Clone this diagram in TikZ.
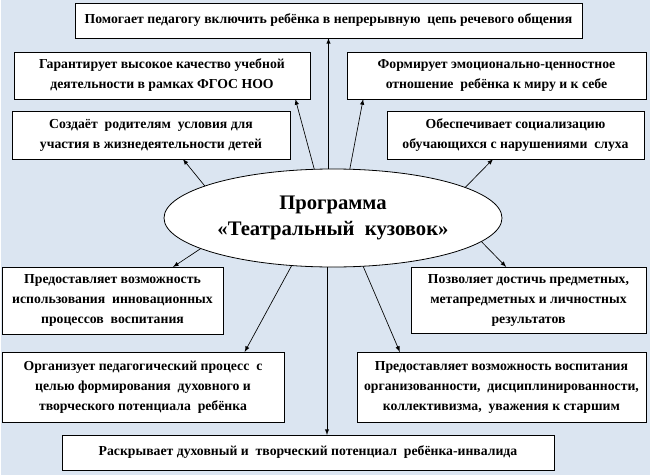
\documentclass[tikz,border=0pt]{standalone}
\usepackage{fontspec}
\setmainfont{Liberation Serif}
\usepackage{tikz}
\usetikzlibrary{shapes.geometric}
\definecolor{bgblue}{RGB}{219,229,241}

\begin{document}
\begin{tikzpicture}[x=0.75pt,y=-0.75pt,
          box/.style={draw, fill=white, line width=0.6pt, align=center,
            inner sep=1pt, outer sep=0pt, font=\fontsize{10.3}{15}\selectfont\bfseries},
          arr/.style={-latex, line width=0.5pt}]
          \useasboundingbox (0,0) rectangle (654,475);
          \fill[bgblue] (1,0) rectangle (650,475);

          \node[draw, ellipse, fill=white, line width=0.6pt, minimum width=253.5pt,
            minimum height=73.5pt, inner sep=0pt, outer sep=0pt, align=center,
            font=\fontsize{15.5}{20}\selectfont\bfseries] (prog) at (333,218)
            {Программа\\«Театральный~ кузовок»};

          \node[box, minimum width=380.25pt, minimum height=26.25pt] (b1) at (328.5,20.5)
            {Помогает педагогу включить ребёнка в непрерывную~ цепь речевого общения};
          \node[box, minimum width=222pt, minimum height=35.25pt] (b2) at (162,75.5)
            {Гарантирует высокое качество учебной\\деятельности в рамках ФГОС НОО};
          \node[box, minimum width=224.25pt, minimum height=35.25pt] (b3) at (496.5,75.5)
            {Формирует эмоционально-ценностное\\отношение~ ребёнка к миру и к себе};
          \node[box, minimum width=208.5pt, minimum height=36pt] (b4) at (151,135)
            {Создаёт~ родителям~ условия для\\участия в жизнедеятельности детей};
          \node[box, minimum width=192.75pt, minimum height=36pt] (b5) at (515.5,135)
            {Обеспечивает социализацию\\обучающихся с нарушениями~ слуха};
          \node[box, minimum width=165.75pt, minimum height=50.25pt] (b7) at (112.5,300.5)
            {Предоставляет возможность\\использования~ инновационных\\процессов~ воспитания};
          \node[box, minimum width=176.25pt, minimum height=49.5pt] (b8) at (528.5,300)
            {Позволяет достичь предметных,\\метапредметных и личностных\\результатов};
          \node[box, minimum width=211.5pt, minimum height=52.5pt] (b9) at (143,387)
            {Организует педагогический процесс~ с\\целью формирования~ духовного и\\творческого потенциала~ ребёнка};
          \node[box, minimum width=216.75pt, minimum height=52.5pt] (b10) at (501.5,387)
            {Предоставляет возможность воспитания\\организованности,~ дисциплинированности,\\коллективизма,~ уважения к старшим};
          \node[box, minimum width=369pt, minimum height=26.25pt] (b11) at (308,452.5)
            {Раскрывает духовный и~ творческий потенциал~ ребёнка-инвалида};

          \draw[arr] (prog.north -| b1.south) -- (b1.south);
          \draw[arr] (prog.111) -- (b2.-10);
          \draw[arr] (prog.71) -- (b3.190);
          \draw[arr] (prog.166) -- (b4.-37);
          \draw[arr] (prog.13) -- (b5.227);
          \draw[arr] (prog.193) -- (b7.29);
          \draw[arr] (prog.-9) -- (b8.124);
          \draw[arr] (prog.229) -- (b9.19);
          \draw[arr] (prog.-58) -- (b10.161);
          \draw[arr] (prog.263) -- (prog.263 |- b11.north);
        \end{tikzpicture}
\end{document}
